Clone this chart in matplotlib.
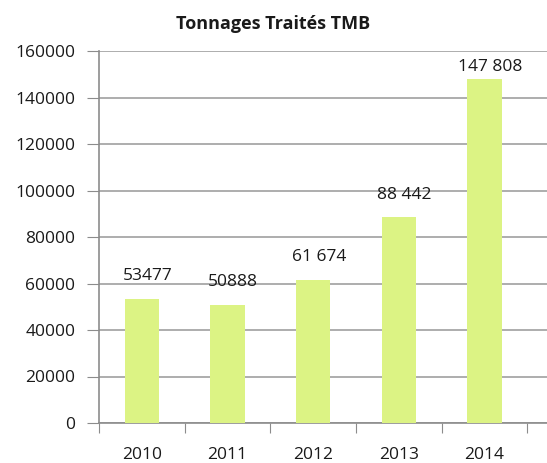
import matplotlib
matplotlib.use("Agg")
import matplotlib.pyplot as plt

years = ["2010", "2011", "2012", "2013", "2014"]
values = [53477, 50888, 61674, 88442, 147808]
value_labels = ["53477", "50888", "61 674", "88 442", "147 808"]
label_offsets = [16, 16, 16, 16, 9]

plt.rcParams['font.family'] = ['Open Sans', 'DejaVu Sans']

fig = plt.figure(figsize=(5.47, 4.63), dpi=100)
ax = fig.add_axes([99/547, 1-423/463, 1-99/547, (423-51)/463])

x = list(range(len(years)))
ax.bar(x, values, width=0.4, color="#dcf384", zorder=3)

ax.set_ylim(0, 160000)
ax.set_yticks(range(0, 160001, 20000))
ax.set_yticklabels([str(v) for v in range(0, 160001, 20000)], fontsize=12.5, color="#1a1a1a")
ax.set_xlim(-0.5, 4.73)
ax.set_xticks([i - 0.5 for i in range(6)])
ax.set_xticklabels([])
ax.set_xticks(x, minor=True)
ax.set_xticklabels(years, minor=True, fontsize=12.5, color="#1a1a1a")
ax.tick_params(axis='x', which='minor', length=0, pad=17)
ax.tick_params(axis='x', which='major', length=7, color="#8c8c8c", direction='out')
ax.tick_params(axis='y', length=9, color="#8c8c8c", pad=8)

ax.grid(axis='y', color="#a0a0a0", linewidth=1.2, zorder=0)
for s in ['top', 'right']:
    ax.spines[s].set_visible(False)
for s in ['left', 'bottom']:
    ax.spines[s].set_color("#8c8c8c")
    ax.spines[s].set_linewidth(1.2)

for xi, v, lab, off in zip(x, values, value_labels, label_offsets):
    ax.annotate(lab, (xi, v), xytext=(4, off), textcoords='offset points',
                ha='center', va='center', fontsize=12.5, color="#1a1a1a")

fig.text(0.5, 1-24/463, "Tonnages Traités TMB", ha='center', va='center',
         fontsize=13, fontweight='bold', color="#1a1a1a")

fig.savefig("out.png", dpi=100)
